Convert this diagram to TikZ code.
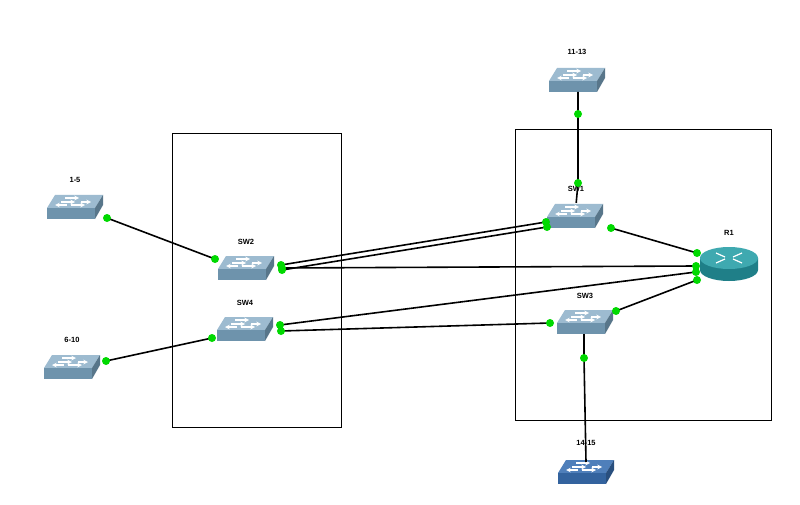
\documentclass[tikz,border=0pt]{standalone}
\usepackage{fontspec}
\setmainfont{Liberation Sans}
\definecolor{swtop}{HTML}{9DBBD0}
\definecolor{swfront}{HTML}{6E93AC}
\definecolor{bltop}{HTML}{4F7FBA}
\definecolor{blfront}{HTML}{33639E}
\definecolor{rtop}{HTML}{3FA9B0}
\definecolor{rside}{HTML}{1F7F88}
\newcommand{\swicon}[4]{% x, y, top, front
  \begin{scope}[shift={(#1,#2)}]
    \fill[#3] (-20,-12) -- (28,-12) -- (20,1) -- (-28,1) -- cycle;
    \fill[#4] (-28,1) -- (20,1) -- (20,12) -- (-28,12) -- cycle;
    \fill[#4!80!black] (20,1) -- (28,-12) -- (28,-2) -- (20,12) -- cycle;
    \begin{scope}[white,line width=1.1pt,>=stealth]
      \draw[->] (-10,-9) -- (4,-9);
      \draw[->] (6,-5) -- (16,-5);
      \draw[<-] (-20,-2) -- (-8,-2);
      \draw[->] (-4,-2) -- (10,-2);
      \draw[<-] (0,-5) -- (-14,-5);
    \end{scope}
  \end{scope}}
\begin{document}
\begin{tikzpicture}[x=1pt,y=-1pt,
  lbl/.style={font=\bfseries\fontsize{7.5}{7.5}\selectfont},
  dot/.style={circle,fill=green!85!black,inner sep=0pt,minimum size=8pt},
  link/.style={line width=1.6pt},
  sw/.style={minimum width=56pt,minimum height=26pt,inner sep=0pt}]
\useasboundingbox (0,0) rectangle (800,505);
\fill[white] (0,0) rectangle (800,505);
% boxes
\draw[line width=1pt] (172,134) rectangle (341,427);
\draw[line width=1pt] (515,130) rectangle (771,420);
% switches
\swicon{577}{80}{swtop}{swfront}   \node[sw] (s1113) at (577,80) {};
\swicon{75}{207}{swtop}{swfront}   \node[sw] (s15) at (75,207) {};
\swicon{246}{268}{swtop}{swfront}  \node[sw] (sw2) at (246,268) {};
\swicon{245}{329}{swtop}{swfront}  \node[sw] (sw4) at (245,329) {};
\swicon{72}{367}{swtop}{swfront}   \node[sw] (s610) at (72,367) {};
\swicon{575}{216}{swtop}{swfront}  \node[sw] (sw1) at (575,216) {};
\swicon{585}{322}{swtop}{swfront}  \node[sw] (sw3) at (585,322) {};
\swicon{586}{472}{bltop}{blfront}  \node[sw] (s1415) at (586,472) {};
% router
\node[minimum width=58pt,minimum height=32pt] (r1) at (728,264) {};
\fill[rside] (700,258) -- (700,270) arc[start angle=180,end angle=0,x radius=29,y radius=11] -- (758,258) -- cycle;
\fill[rtop] (729,258) ellipse[x radius=29,y radius=11];
\draw[white,line width=1.2pt] (716,253)--(725,257) (742,253)--(733,257) (716,263)--(725,259) (742,263)--(733,259);
% labels
\node[lbl] (l1) at (577,52) {11-13};
\node[lbl] (l2) at (75,180) {1-5};
\node[lbl] (l3) at (246,242) {SW2};
\node[lbl] (l4) at (245,303) {SW4};
\node[lbl] (l5) at (72,340) {6-10};
\node[lbl] (l6) at (576,189) {SW1};
\node[lbl] (l7) at (585,296) {SW3};
\node[lbl] (l8) at (729,233) {R1};
% links
\coordinate (a1) at (578,114);  \coordinate (a2) at (578,183);
\coordinate (b1) at (107,218);  \coordinate (b2) at (215,259);
\coordinate (c1) at (106,361);  \coordinate (c2) at (212,338);
\coordinate (d1) at (281,265);  \coordinate (d2) at (546,222);
\coordinate (d3) at (282,270);  \coordinate (d4) at (547,227);
\coordinate (d5) at (282,268);  \coordinate (r2) at (696,266);
\coordinate (e1) at (280,325);  \coordinate (r3) at (696,272);
\coordinate (e2) at (281,331);  \coordinate (f1) at (550,323);
\coordinate (g1) at (611,228);  \coordinate (r4) at (697,253);
\coordinate (h1) at (616,311);  \coordinate (r5) at (697,280);
\coordinate (i1) at (584,358);  \coordinate (i2) at (586,462);
\coordinate (a0) at (578,92);   \coordinate (i0) at (584,334);
\draw[link] (a0) -- (a1) -- (a2) -- (sw1);
\draw[link] (b1) -- (b2);
\draw[link] (c1) -- (c2);
\draw[link] (d1) -- (d2);
\draw[link] (d3) -- (d4);
\draw[link] (d5) -- (r2);
\draw[link] (e1) -- (r3);
\draw[link] (e2) -- (f1);
\draw[link] (g1) -- (r4);
\draw[link] (h1) -- (r5);
\draw[link] (i0) -- (i1) -- (i2);
% dots
\foreach \p in {a1,a2,b1,b2,c1,c2,d1,d2,d3,d4,d5,r2,e1,r3,e2,f1,g1,r4,h1,r5,i1}
  \node[dot] (n\p) at (\p) {};
\node[lbl] (l9) at (586,443) {14-15};
\end{tikzpicture}
\end{document}
